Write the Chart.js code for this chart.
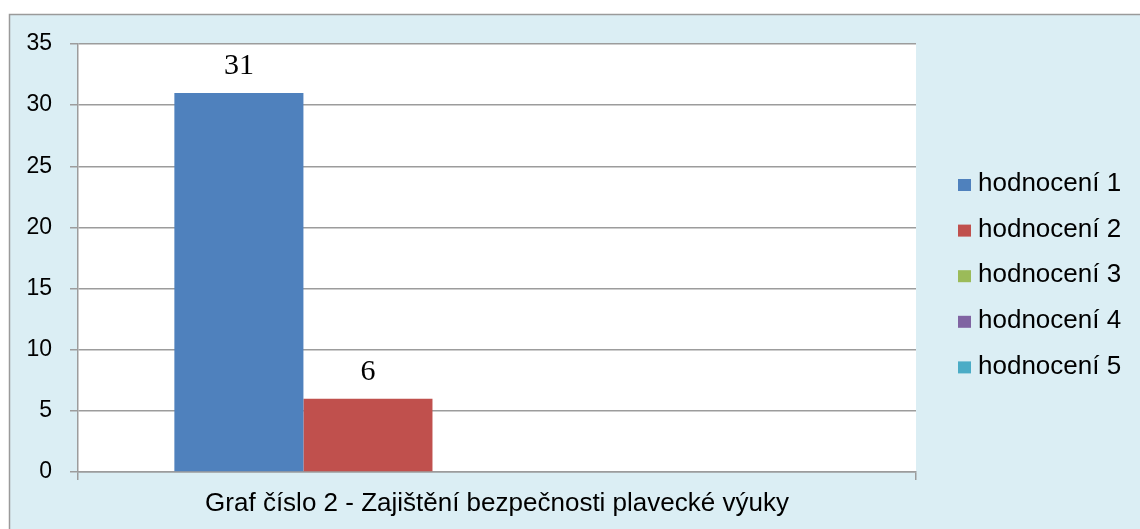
<!DOCTYPE html>
<html>
<head>
<meta charset="utf-8">
<script src="https://cdn.jsdelivr.net/npm/chart.js@4.4.0/dist/chart.umd.min.js"></script>
<style>
  html, body { margin: 0; padding: 0; background: #ffffff; }
  #wrap { width: 1140px; height: 529px; position: relative; }
</style>
</head>
<body>
<div id="wrap"><canvas id="c" width="1140" height="529"></canvas></div>
<script>
// ---- data ----
const categories = ["Graf číslo 2 - Zajištění bezpečnosti plavecké výuky"];
const seriesNames = ["hodnocení 1", "hodnocení 2", "hodnocení 3", "hodnocení 4", "hodnocení 5"];
const hodnoceni1 = [31];
const hodnoceni2 = [6];
const hodnoceni3 = [0];
const hodnoceni4 = [0];
const hodnoceni5 = [0];
const yTicks = [0, 5, 10, 15, 20, 25, 30, 35];

const seriesValues = [hodnoceni1, hodnoceni2, hodnoceni3, hodnoceni4, hodnoceni5];
const seriesColors = ["#4F81BD", "#C0504D", "#9BBB59", "#8064A2", "#4BACC6"];

const GRID = "#9c9c9c";
const BG = "#DBEEF4";

const frame = {
  id: 'frame',
  beforeDraw(chart) {
    const ctx = chart.ctx;
    ctx.save();
    ctx.fillStyle = "#ffffff";
    ctx.fillRect(0, 0, chart.width, chart.height);
    ctx.fillStyle = BG;
    ctx.fillRect(9, 14, chart.width, chart.height);
    ctx.strokeStyle = "#9a9a9a";
    ctx.lineWidth = 1.5;
    ctx.strokeRect(9.5, 14.5, chart.width + 10, chart.height + 10);
    const a = chart.chartArea;
    ctx.fillStyle = "#ffffff";
    ctx.fillRect(a.left, a.top, a.right - a.left, a.bottom - a.top);
    ctx.restore();
  }
};

const valueLabels = {
  id: 'valueLabels',
  afterDatasetsDraw(chart) {
    const ctx = chart.ctx;
    ctx.save();
    ctx.font = "30px 'Liberation Serif'";
    ctx.fillStyle = "#000";
    ctx.textAlign = "center";
    ctx.textBaseline = "alphabetic";
    chart.data.datasets.forEach((ds, i) => {
      const meta = chart.getDatasetMeta(i);
      meta.data.forEach((el, j) => {
        const v = ds.data[j];
        if (v > 0) ctx.fillText(String(v), el.x, el.y - 19);
      });
    });
    ctx.restore();
  }
};

const sideLegend = {
  id: 'sideLegend',
  afterDraw(chart) {
    const ctx = chart.ctx;
    ctx.save();
    ctx.font = "26px 'Liberation Sans'";
    ctx.textBaseline = "middle";
    ctx.textAlign = "left";
    chart.data.datasets.forEach((ds, i) => {
      const cy = 185 + i * 45.6;
      ctx.fillStyle = ds.backgroundColor;
      ctx.fillRect(958, cy - 6, 13, 12);
      ctx.fillStyle = "#000";
      ctx.fillText(ds.label, 978, cy - 1);
    });
    ctx.restore();
  }
};

new Chart(document.getElementById('c'), {
  type: 'bar',
  data: {
    labels: categories,
    datasets: seriesNames.map((n, i) => ({
      label: n,
      data: seriesValues[i],
      backgroundColor: seriesColors[i],
      borderWidth: 0,
      categoryPercentage: 0.77,
      barPercentage: 1.0
    }))
  },
  options: {
    responsive: false,
    animation: false,
    layout: { padding: { left: 0, top: 44, right: 224, bottom: 0 } },
    plugins: { legend: { display: false }, tooltip: { enabled: false } },
    scales: {
      x: {
        offset: true,
        grid: { drawOnChartArea: false, drawTicks: true, tickLength: 8, color: GRID, lineWidth: 1.5 },
        border: { display: true, color: GRID, width: 1.5 },
        ticks: { color: "#000", font: { family: "Liberation Sans", size: 26 }, padding: 8, maxRotation: 0 },
        afterFit(scale) { scale.height = 57; }
      },
      y: {
        min: 0, max: 35,
        afterBuildTicks(scale) { scale.ticks = yTicks.map(v => ({ value: v })); },
        grid: { color: GRID, lineWidth: 1.5, tickLength: 8, drawTicks: true },
        border: { display: true, color: GRID, width: 1.5 },
        ticks: { color: "#000", font: { family: "Liberation Sans", size: 23 }, padding: 18 },
        afterFit(scale) { scale.width = 78; }
      }
    }
  },
  plugins: [frame, valueLabels, sideLegend]
});
</script>
</body>
</html>
